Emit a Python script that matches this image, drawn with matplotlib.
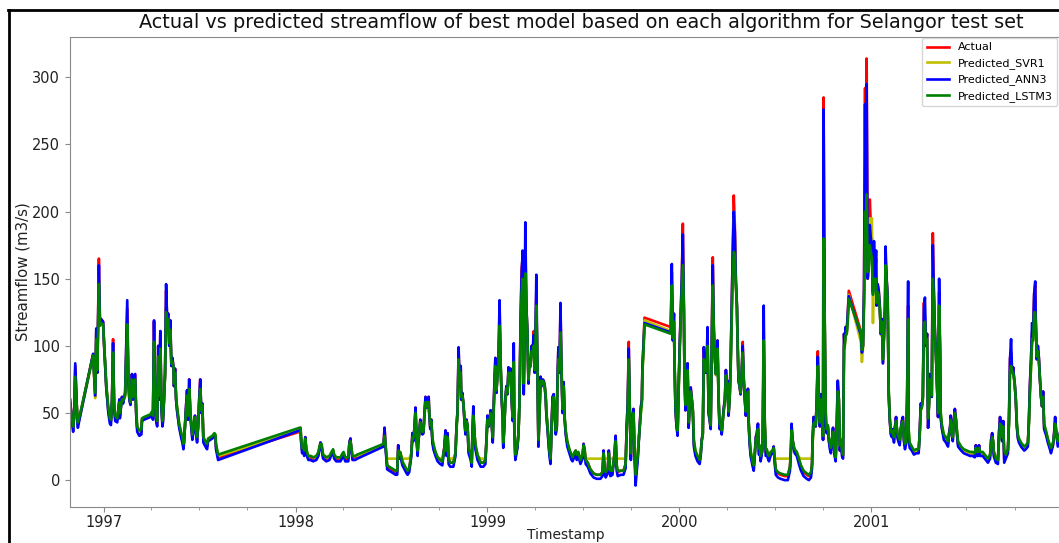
import pandas as pd
import matplotlib
matplotlib.use("Agg")
import matplotlib.pyplot as plt
import matplotlib.dates as mdates
from matplotlib.lines import Line2D

# ---------------- data ----------------
start_date = "1997-01-01"

# day offsets from start_date
day_offset = [
    # Oct 1996 - Aug 1997
    -65,-61,-59,-57,-55,-51,-50,-46,-21,-17,-15,-13,-10,-8,-6,-2,0,4,8,11,
    13,15,17,19,21,25,29,30,34,36,40,44,46,48,50,51,53,55,59,61,
    63,67,71,72,76,82,88,91,93,95,97,99,101,103,105,107,109,111,112,114,
    116,118,120,122,124,126,128,130,132,133,135,137,139,143,147,149,151,152,156,158,
    160,162,164,166,168,170,172,173,175,177,179,181,183,185,187,189,193,196,198,202,
    206,210,212,213,217,
    # Jan - Mar 1998
    372,374,375,377,379,381,383,385,387,389,393,398,404,408,410,412,414,416,417,423,
    429,433,436,438,442,450,454,456,459,465,467,469,471,473,478,482,
    # Jun 1998 - Oct 1999
    532,534,536,538,539,543,547,551,555,558,560,562,564,568,572,576,578,581,585,587,
    589,591,593,595,597,598,600,602,604,606,608,610,612,614,615,618,619,621,623,625,
    627,631,635,640,644,648,650,652,654,656,659,665,669,671,673,675,677,679,680,682,
    684,686,688,690,692,694,698,700,701,703,705,707,711,717,722,726,728,730,732,734,
    736,738,740,741,743,745,747,749,751,753,755,757,759,760,762,764,766,768,770,772,
    774,776,778,780,781,783,787,789,791,793,795,797,799,801,802,804,806,808,810,812,
    814,816,818,820,821,823,825,827,829,831,833,835,837,839,841,842,844,846,848,850,
    852,854,856,858,860,862,863,865,867,869,871,873,875,877,879,881,882,886,890,892,
    896,898,900,903,907,911,913,915,917,921,926,932,938,945,949,951,953,955,959,961,
    963,964,968,972,974,976,978,984,989,993,995,997,999,1001,1003,1004,1006,1008,1010,1012,
    1014,1016,1018,1022,1024,1025,1027,1029,
    # Dec 1999 - Nov 2000
    1079,1081,1083,1085,1086,1088,1090,1092,1094,1096,1098,1100,1102,1104,1105,1107,1109,1111,1113,1115,
    1117,1119,1121,1123,1126,1130,1134,1136,1138,1140,1142,1144,1146,1147,1149,1151,1153,1155,1157,1159,
    1161,1163,1165,1166,1168,1170,1172,1174,1176,1178,1180,1182,1184,1186,1187,1189,1191,1193,1195,1197,
    1199,1201,1203,1205,1206,1208,1210,1212,1214,1216,1218,1220,1222,1224,1226,1227,1229,1231,1235,1237,
    1239,1241,1243,1245,1247,1248,1250,1252,1254,1256,1258,1260,1262,1264,1266,1269,1273,1275,1277,1279,
    1283,1288,1296,1302,1306,1308,1309,1311,1313,1315,1319,1323,1327,1332,1338,1342,1346,1348,1349,1351,
    1353,1355,1357,1359,1361,1363,1365,1367,1369,1370,1372,1374,1376,1378,1380,1382,1384,1386,1388,1389,
    1391,1393,1395,1397,1399,1401,1403,1405,1407,1409,1410,1412,1414,1416,1418,
    # Dec 2000 - Dec 2001
    1441,1443,1445,1447,1449,1450,1452,1454,1456,1458,1460,1462,1464,1466,1468,1470,1471,1473,1475,1477,
    1479,1481,1483,1485,1487,1488,1490,1492,1494,1496,1498,1500,1502,1504,1506,1508,1510,1511,1513,1515,
    1517,1519,1521,1523,1525,1527,1529,1531,1532,1534,1538,1542,1546,1551,1553,1555,1557,1559,1561,1563,
    1565,1567,1569,1571,1572,1574,1576,1578,1580,1582,1584,1586,1588,1590,1592,1593,1595,1599,1603,1607,
    1609,1611,1612,1614,1616,1618,1620,1622,1624,1626,1632,1637,1643,1649,1654,1658,1660,1662,1664,1666,
    1668,1673,1679,1683,1687,1689,1691,1693,1694,1698,1702,1704,1706,1708,1710,1712,1714,1717,1721,1723,
    1725,1727,1729,1731,1733,1734,1736,1738,1740,1742,1746,1750,1752,1755,1759,1761,1763,1765,1767,1769,
    1771,1773,1774,1776,1778,1780,1782,1784,1786,1788,1790,1794,1797,1801,1803,1807,1809,1811,1813,1816,
    1820,1824,
]

actual = [
    60,45,38,50,85,45,41,48,94,62,111,80,165,118,120,118,100,70,52,45,
    44,60,105,55,46,45,60,48,62,58,65,128,75,60,57,62,79,60,79,50,
    38,35,36,45,46,47,48,50,46,118,60,45,42,100,60,111,55,42,44,60,
    80,141,120,124,100,119,85,91,84,70,83,60,52,40,33,30,25,28,55,67,
    45,75,50,40,32,38,45,48,35,30,40,60,75,50,57,30,27,25,30,31,
    32,34,33,25,17,
    36,39,30,22,25,20,32,22,19,17,17,16,17,20,24,28,26,20,18,16,
    17,20,22,18,16,16,19,20,16,16,28,31,22,17,17,18,
    26,39,25,15,10,9,8,7,6,6,26,18,20,13,10,7,6,8,20,35,
    30,40,54,30,20,28,35,45,40,35,35,50,62,55,60,62,50,39,45,30,
    25,20,17,15,14,25,37,20,35,15,13,13,20,40,52,97,70,85,60,65,
    57,45,35,45,40,22,18,13,30,51,35,25,18,13,13,15,30,48,40,45,
    52,42,30,45,70,91,65,80,90,128,85,60,47,25,40,60,70,64,84,75,
    83,60,45,100,40,17,25,35,60,120,158,165,64,120,176,130,110,72,90,85,
    100,95,111,80,100,140,84,25,50,77,70,75,74,70,60,50,40,30,20,15,
    40,62,64,50,35,40,70,99,80,128,80,50,73,45,35,30,27,22,18,17,
    20,22,18,20,15,18,27,22,15,13,8,5,4,4,6,22,8,5,8,22,
    10,6,7,20,33,10,6,7,7,12,40,57,103,50,17,30,47,53,20,2,
    10,17,30,54,60,84,100,121,
    114,155,104,124,90,52,40,35,70,100,126,150,191,126,80,52,65,87,39,55,
    69,60,52,27,20,17,15,20,30,35,99,80,94,80,108,50,45,39,100,166,
    111,90,79,90,104,60,39,40,35,45,54,60,82,70,74,48,60,87,130,170,
    212,190,148,130,107,74,70,64,80,103,74,60,48,60,68,45,30,20,13,10,
    20,32,35,42,21,25,17,20,25,110,40,20,22,18,17,20,22,25,15,7,
    5,4,3,3,10,25,40,30,25,22,20,15,10,6,4,3,5,12,30,47,
    45,40,60,96,60,40,64,55,30,285,120,40,35,40,30,25,22,30,39,30,
    20,16,40,74,60,22,30,20,18,109,100,114,110,124,141,
    111,95,100,141,292,200,314,150,160,209,190,180,140,170,150,165,130,146,141,130,
    109,120,87,109,130,165,150,136,64,45,35,33,38,30,40,47,35,32,30,28,
    38,44,47,30,25,28,60,130,30,26,24,21,22,22,35,57,55,62,132,120,
    100,109,39,60,79,70,62,184,140,110,94,70,47,140,90,47,40,32,30,27,
    35,40,48,35,30,45,53,45,35,27,24,22,21,20,20,19,26,20,20,26,
    20,20,17,16,18,30,35,28,20,16,15,35,47,40,30,44,15,18,22,45,
    91,95,80,84,75,72,60,40,32,30,27,25,24,25,27,45,72,90,110,110,
    139,145,120,90,100,91,75,62,55,66,39,35,30,25,22,27,35,47,35,27,
    35,40,
]

svr1 = [
    58,45,38,48,78,46,42,47,92,61,108,80,150,115,118,115,100,70,52,45,
    44,58,98,56,47,46,58,49,60,58,63,118,76,61,57,61,76,61,76,51,
    39,36,37,45,46,47,48,50,47,105,62,47,43,92,62,100,57,43,45,60,
    78,128,115,118,100,112,86,88,83,71,80,61,53,41,34,31,26,28,52,63,
    47,70,51,41,33,38,45,47,36,31,40,58,70,51,56,31,28,26,30,31,
    32,34,33,26,18,
    37,38,31,23,25,21,30,23,20,18,18,17,17,20,24,27,26,21,19,17,
    17,20,22,19,17,17,19,20,17,17,27,29,23,18,18,18,
    26,35,25,17,16,16,16,16,16,16,22,19,20,16,16,16,16,16,20,32,
    30,38,48,31,21,28,34,43,40,35,35,48,58,54,58,58,50,40,44,31,
    26,20,17,16,16,24,33,21,32,17,16,16,20,38,50,88,70,80,61,63,
    57,46,36,44,40,23,18,16,28,47,35,26,18,16,16,16,28,45,40,44,
    50,42,31,43,66,84,66,78,86,115,86,62,48,27,39,58,68,64,80,74,
    80,61,46,90,42,18,25,34,58,112,145,150,70,115,160,128,108,74,88,84,
    96,94,104,80,96,132,86,28,48,74,70,74,73,70,61,51,41,31,21,17,
    37,58,62,51,36,40,66,90,80,115,82,52,70,46,36,31,28,22,18,17,
    20,21,18,20,16,17,25,21,16,16,16,16,16,16,16,20,16,16,16,20,
    16,16,16,18,28,16,16,16,16,16,35,52,92,52,20,29,44,50,22,16,
    16,18,29,50,58,80,96,119,
    111,140,104,118,90,55,42,36,66,96,120,142,170,126,82,55,64,82,42,54,
    66,60,52,29,21,18,16,20,29,34,90,80,88,80,100,53,46,40,95,155,
    110,90,78,88,98,62,41,40,36,44,52,58,78,70,72,50,59,82,120,160,
    200,180,145,128,106,75,70,64,78,95,75,61,50,59,66,46,31,21,16,16,
    19,30,33,38,23,25,18,20,24,100,42,22,22,19,18,20,21,23,16,16,
    16,16,16,16,16,22,33,28,24,22,20,17,16,16,16,16,16,16,26,42,
    43,40,57,88,62,42,60,55,32,190,125,50,36,40,31,26,23,29,36,31,
    21,17,36,66,60,25,29,21,18,100,98,108,108,118,138,
    103,88,98,130,180,170,190,150,155,195,185,195,117,160,148,160,130,140,138,128,
    108,118,88,106,125,155,145,132,66,46,36,34,37,31,39,44,36,33,31,29,
    37,42,44,31,26,28,55,118,36,27,24,21,22,22,33,52,54,60,120,118,
    100,105,45,58,75,70,62,160,135,108,92,70,49,128,90,50,41,33,31,28,
    34,38,45,36,31,43,50,45,36,28,24,22,21,20,20,19,24,20,20,24,
    20,20,17,16,18,27,32,28,21,17,16,30,42,40,31,40,20,18,22,42,
    80,88,80,80,74,70,60,42,33,30,27,25,24,25,27,42,66,84,100,104,
    125,130,115,90,96,88,75,62,55,62,41,35,30,25,23,27,33,42,35,28,
    34,38,
]

ann3 = [
    60,43,36,50,87,43,39,47,94,63,113,80,160,118,120,118,100,69,50,42,
    41,60,102,55,44,43,60,46,62,57,65,134,75,60,56,62,79,60,79,49,
    36,33,34,44,45,46,47,49,45,119,60,44,40,100,60,111,54,40,43,60,
    80,146,120,124,100,119,85,91,84,70,83,60,51,39,31,28,23,27,55,67,
    45,75,50,39,30,37,45,48,34,28,40,60,75,50,57,28,25,23,29,30,
    31,33,32,23,15,
    37,38,29,20,24,18,32,20,17,15,15,14,15,18,23,28,25,18,16,14,
    15,19,21,16,14,14,17,19,14,14,28,31,21,15,15,16,
    25,39,23,13,8,7,6,5,4,4,26,16,18,11,8,5,4,6,18,35,
    29,40,54,29,18,27,35,45,39,34,35,50,62,54,60,62,50,38,45,28,
    23,18,14,12,11,25,37,18,35,12,10,10,18,40,52,99,70,85,60,65,
    57,45,34,45,40,20,15,10,30,55,35,23,15,10,10,12,30,48,40,45,
    52,42,28,45,70,91,65,80,90,134,85,60,46,24,40,60,70,64,84,75,
    83,60,44,102,40,15,24,35,60,118,153,171,64,120,192,130,110,72,90,85,
    100,95,108,80,100,153,84,25,50,77,70,75,74,70,60,50,39,28,18,12,
    40,62,64,50,34,40,70,99,80,132,80,50,73,45,34,28,25,20,15,14,
    18,21,15,18,12,16,27,20,12,10,5,2,1,1,3,22,5,2,5,22,
    7,3,4,20,33,7,3,4,4,9,40,57,98,50,15,30,47,53,18,-4,
    6,14,28,54,60,84,100,117,
    110,161,104,124,90,52,40,33,70,100,126,150,183,126,80,52,65,87,39,55,
    69,60,51,25,18,14,12,18,30,35,99,80,94,80,114,50,45,38,100,160,
    111,90,79,90,104,60,38,40,34,45,54,60,82,70,74,48,60,87,130,170,
    200,185,148,130,107,74,70,64,80,100,74,60,48,60,68,45,28,18,10,7,
    18,32,35,42,19,24,14,18,25,130,40,18,20,16,14,18,21,25,12,4,
    2,1,0,0,7,25,42,30,24,20,18,12,7,3,1,0,2,9,30,47,
    45,40,60,92,60,40,64,55,30,276,120,40,35,40,29,23,20,30,39,29,
    18,14,40,74,60,22,30,18,16,109,100,114,110,124,137,
    108,95,100,141,280,200,295,150,160,190,180,175,140,178,150,171,130,146,141,130,
    109,120,87,109,130,174,150,136,64,45,34,32,38,28,40,47,35,31,28,26,
    38,44,47,29,23,27,60,148,30,24,22,19,20,20,35,57,55,62,128,136,
    100,109,39,60,79,70,62,175,140,110,94,70,47,150,90,47,39,30,28,25,
    35,40,48,35,29,45,53,45,34,25,22,20,19,18,18,17,26,18,18,26,
    18,18,15,13,16,30,35,27,18,13,12,35,47,40,29,44,13,16,20,45,
    90,105,80,84,75,72,60,40,31,28,25,23,22,23,25,45,72,90,117,110,
    139,148,120,90,100,91,75,62,55,66,38,33,28,23,20,26,35,47,35,25,
    35,40,
]

lstm3 = [
    57,45,40,47,77,47,43,49,93,65,105,82,146,115,117,116,102,72,54,46,
    45,58,95,58,48,46,58,50,60,59,63,116,78,62,58,61,75,62,75,52,
    40,37,38,46,47,48,49,51,48,103,64,48,44,92,63,98,58,44,46,61,
    78,125,117,120,102,112,87,88,84,72,80,62,54,42,35,32,27,29,52,63,
    48,68,52,42,34,39,46,47,37,32,41,58,68,52,56,32,29,27,31,32,
    33,35,34,27,19,
    39,39,32,24,26,22,31,24,20,18,18,17,18,21,25,27,27,22,19,17,
    18,21,23,19,17,17,20,21,17,17,27,29,24,18,18,19,
    27,33,26,16,11,10,9,8,7,7,22,19,21,14,11,8,7,9,20,32,
    31,38,50,33,22,29,35,43,41,36,36,48,58,55,58,58,51,41,44,32,
    27,21,17,15,14,24,33,22,32,16,13,13,20,38,50,90,72,80,62,63,
    58,47,37,44,41,24,19,13,28,48,36,27,19,13,13,15,28,45,41,44,
    50,43,32,43,66,85,67,78,86,115,88,63,49,28,40,58,68,65,80,75,
    80,62,47,88,43,19,26,35,58,110,140,150,72,115,154,128,108,75,88,85,
    96,95,100,82,96,130,88,30,48,74,71,74,73,70,62,52,42,32,22,16,
    37,58,62,52,37,41,66,90,82,110,84,53,70,47,37,32,29,23,19,17,
    21,22,19,21,15,19,26,23,15,13,8,5,4,4,6,20,9,6,8,20,
    11,7,7,19,29,12,7,7,7,12,35,52,90,54,20,30,44,50,23,4,
    11,18,30,50,58,80,96,116,
    109,145,106,118,92,56,43,37,66,96,120,140,160,128,84,56,64,82,43,54,
    66,61,53,30,22,18,15,20,29,34,90,81,88,81,100,55,47,41,95,145,
    112,91,79,88,98,63,42,41,37,44,52,58,78,71,72,51,59,82,120,155,
    170,168,145,128,108,76,71,65,78,95,76,62,51,59,66,47,32,22,13,11,
    20,30,33,38,24,26,18,20,24,104,44,23,23,19,18,21,22,24,16,8,
    6,5,4,4,10,23,37,30,26,23,21,16,11,7,5,4,6,12,27,42,
    43,41,57,85,63,43,60,56,33,180,128,52,38,41,32,27,24,30,36,32,
    22,17,36,66,61,26,30,22,19,100,99,108,109,118,135,
    110,97,100,130,200,180,213,155,158,175,170,165,138,150,148,150,132,140,138,128,
    110,118,90,106,125,160,148,134,68,47,37,35,37,32,39,44,37,34,32,30,
    37,42,44,32,27,29,55,120,38,28,25,22,23,23,33,52,54,60,115,118,
    102,105,46,58,75,71,63,150,135,108,92,71,50,130,92,51,42,34,32,29,
    34,38,45,37,32,43,50,46,37,29,25,23,22,21,21,20,24,21,21,24,
    21,21,18,16,19,27,32,29,22,16,15,30,42,41,32,40,22,19,23,42,
    80,85,80,80,75,70,61,43,34,31,28,26,25,26,28,42,66,84,105,104,
    125,125,115,92,96,88,76,63,56,62,42,36,31,26,24,28,33,42,36,29,
    34,38,
]

series_names = ["Actual", "Predicted_SVR1", "Predicted_ANN3", "Predicted_LSTM3"]
series_colors = ["r", "y", "b", "g"]
y_ticks = [0, 50, 100, 150, 200, 250, 300]
title_text = "Actual vs predicted streamflow of best model based on each algorithm for Selangor test set"

# ---------------- figure ----------------
dates = pd.Timestamp(start_date) + pd.to_timedelta(day_offset, unit="D")

W, H = 1059, 543
fig = plt.figure(figsize=(W / 100, H / 100), dpi=100)
ax = fig.add_axes([70 / W, (H - 507) / H, (1062 - 70) / W, (507 - 37) / H])

for vals, name, col in zip([actual, svr1, ann3, lstm3], series_names, series_colors):
    ax.plot(dates, vals, color=col, lw=1.9, label=name)

ax.set_xlim(dates[0], dates[-1])
ax.set_ylim(-20, 330)
ax.set_yticks(y_ticks)

ax.xaxis.set_major_locator(mdates.YearLocator())
ax.xaxis.set_major_formatter(mdates.DateFormatter("%Y"))
ax.xaxis.set_minor_locator(mdates.MonthLocator([4, 7, 10]))

spine_col = "#8a8a8a"
for s in ax.spines.values():
    s.set_color(spine_col)
ax.tick_params(axis="both", which="both", colors=spine_col, labelcolor="#222222",
               labelsize=10.5)
ax.tick_params(axis="x", which="major", pad=2.5)
ax.tick_params(axis="x", which="minor", length=2)

# title centred where the reference shows it (the source axes ran past the crop)
fig.text(581.5 / W, 1 - 23 / H, title_text, fontsize=13.9, color="#111111",
         ha="center", va="center")
ax.set_ylabel("Streamflow (m3/s)", fontsize=10.8, color="#222222", labelpad=1.5)
ax.set_xlabel("Timestamp", fontsize=10, color="#222222")
ax.xaxis.set_label_coords(0.5, -(528 - 507) / 470)

ax.legend(loc="upper right", bbox_to_anchor=(1057 / W, 1 - 38 / H),
          bbox_transform=fig.transFigure, borderaxespad=0, fontsize=8)

# black picture frame (left and top edges visible)
fig.add_artist(Line2D([9 / W, 9 / W], [-0.05, 1 - 10 / H], transform=fig.transFigure,
                      color="black", lw=2))
fig.add_artist(Line2D([8 / W, 1.05], [1 - 10 / H, 1 - 10 / H], transform=fig.transFigure,
                      color="black", lw=2))

fig.savefig("out.png", dpi=100)
